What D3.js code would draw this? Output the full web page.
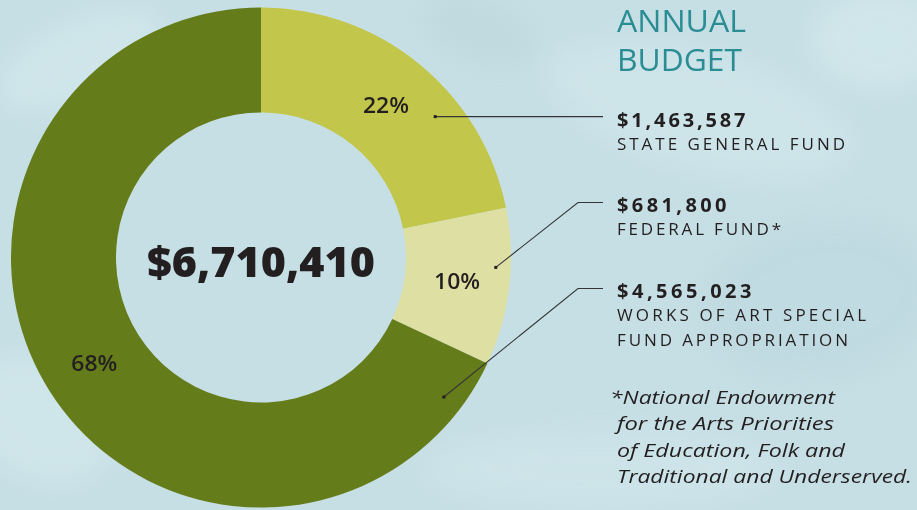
<!DOCTYPE html>
<html>
<head>
<meta charset="utf-8">
<script src="https://cdn.jsdelivr.net/npm/d3@7"></script>
<style>
  html, body { margin: 0; padding: 0; background: #c6dfe5; }
  svg { display: block; }
</style>
</head>
<body>
<svg id="chart" width="917" height="510"></svg>
<script>
// ---- data ----
const categories = ["State General Fund", "Federal Fund*", "Works of Art Special Fund Appropriation"];
const amounts = [1463587, 681800, 4565023];
const percentLabels = ["22%", "10%", "68%"];
const amountLabels = ["$1,463,587", "$681,800", "$4,565,023"];
const categoryLines = [["STATE GENERAL FUND"], ["FEDERAL FUND*"], ["WORKS OF ART SPECIAL", "FUND APPROPRIATION"]];
const totalLabel = "$6,710,410";
const titleLines = ["ANNUAL", "BUDGET"];
const footnoteLines = ["*National Endowment", " for the Arts Priorities", " of Education, Folk and", " Traditional and Underserved."];

// ---- style / layout ----
const W = 917, H = 510;
const cx = 261, cy = 257.5, rOuter = 250, rInner = 145;
const colors = ["#c2c74b", "#dee0a3", "#657c1b"];
const leaderT = [0.65, 0.38, 0.05];      // position of dot within slice angle
const leaderR = [224, 235, 230];         // radius of dot
const legendY = [127, 212, 298];         // baseline of amount text
const legendX = 617;
const elbowX = 578;

const svg = d3.select("#chart");

// background texture
const defs = svg.append("defs");
const blur = defs.append("filter").attr("id", "blur").attr("x", "-50%").attr("y", "-50%").attr("width", "200%").attr("height", "200%");
blur.append("feGaussianBlur").attr("stdDeviation", 14);
svg.append("rect").attr("width", W).attr("height", H).attr("fill", "#c6dfe5");
const tex = svg.append("g").attr("filter", "url(#blur)").attr("opacity", 0.55);
const blobs = [
  [80, 60, 90, 40, "#d6ebef", -25], [700, 110, 160, 60, "#d3e8ed", 15],
  [820, 300, 120, 80, "#bcd7de", -10], [40, 420, 80, 60, "#d5eaee", 30],
  [600, 470, 180, 40, "#d2e7ec", 0], [880, 40, 70, 50, "#d8ecf0", 0],
  [480, 30, 60, 30, "#bcd6dc", 20]
];
tex.selectAll("ellipse").data(blobs).join("ellipse")
  .attr("cx", d => d[0]).attr("cy", d => d[1]).attr("rx", d => d[2]).attr("ry", d => d[3])
  .attr("fill", d => d[4]).attr("transform", d => `rotate(${d[5]},${d[0]},${d[1]})`);

// donut
const pie = d3.pie().sort(null).value(d => d)(amounts);
const arc = d3.arc().innerRadius(rInner).outerRadius(rOuter);
const g = svg.append("g").attr("transform", `translate(${cx},${cy})`);
g.selectAll("path.slice").data(pie).join("path")
  .attr("class", "slice").attr("d", arc).attr("fill", (d, i) => colors[i]);

// percent labels
g.selectAll("text.pct").data(pie).join("text")
  .attr("class", "pct")
  .attr("x", d => arc.centroid(d)[0])
  .attr("y", d => arc.centroid(d)[1] + 8)
  .attr("text-anchor", "middle")
  .attr("font-family", "'Open Sans', sans-serif")
  .attr("font-weight", 600)
  .attr("font-size", 21.5)
  .attr("textLength", 46).attr("lengthAdjust", "spacingAndGlyphs")
  .attr("fill", "#231f20")
  .text((d, i) => percentLabels[i]);

// center total
svg.append("text")
  .attr("x", cx).attr("y", 277)
  .attr("text-anchor", "middle")
  .attr("font-family", "'Open Sans', sans-serif")
  .attr("font-weight", 800)
  .attr("font-size", 42)
  .attr("textLength", 228).attr("lengthAdjust", "spacingAndGlyphs")
  .attr("fill", "#231f20")
  .text(totalLabel);

// leader lines
pie.forEach((d, i) => {
  const a = d.startAngle + leaderT[i] * (d.endAngle - d.startAngle);
  const px = cx + leaderR[i] * Math.sin(a);
  const py = cy - leaderR[i] * Math.cos(a);
  const ly = legendY[i] - 9.5;
  const pts = i === 0 ? [[px, py], [legendX - 14, py]] : [[px, py], [elbowX, ly], [legendX - 14, ly]];
  svg.append("path")
    .attr("d", d3.line()(pts))
    .attr("fill", "none").attr("stroke", "#333536").attr("stroke-width", 1.1);
  svg.append("rect").attr("x", px - 1.5).attr("y", py - 1.5).attr("width", 3).attr("height", 3).attr("fill", "#231f20");
});

// title
const titleWidths = [129, 125];
svg.selectAll("text.title").data(titleLines).join("text")
  .attr("class", "title")
  .attr("x", legendX).attr("y", (d, i) => 32 + i * 39)
  .attr("font-family", "'Open Sans', sans-serif")
  .attr("font-weight", 400)
  .attr("font-size", 31)
  .attr("textLength", (d, i) => titleWidths[i]).attr("lengthAdjust", "spacingAndGlyphs")
  .attr("fill", "#2b8d94")
  .text(d => d);

// legend entries
const amountWidths = [130, 111, 136];
const catWidths = [[230], [166], [251, 233]];
amountLabels.forEach((lab, i) => {
  svg.append("text")
    .attr("x", legendX).attr("y", legendY[i])
    .attr("font-family", "'Open Sans', sans-serif")
    .attr("font-weight", 700)
    .attr("font-size", 20)
    .attr("letter-spacing", 1.5)
    .attr("textLength", amountWidths[i]).attr("lengthAdjust", "spacing")
    .attr("fill", "#231f20")
    .text(lab);
  categoryLines[i].forEach((line, j) => {
    svg.append("text")
      .attr("x", legendX).attr("y", legendY[i] + 23 + j * 25)
      .attr("font-family", "'Open Sans', sans-serif")
      .attr("font-weight", 500)
      .attr("font-size", 17)
      .attr("letter-spacing", 2)
      .attr("textLength", catWidths[i][j]).attr("lengthAdjust", "spacing")
      .attr("fill", "#231f20")
      .text(line);
  });
});

// footnote
const footX = [610, 617, 617, 617];
const footW = [225, 217, 228, 295];
svg.selectAll("text.foot").data(footnoteLines).join("text")
  .attr("class", "foot")
  .attr("x", (d, i) => footX[i]).attr("y", (d, i) => 404 + i * 26.3)
  .attr("font-family", "'Open Sans', sans-serif")
  .attr("font-style", "italic")
  .attr("font-weight", 400)
  .attr("font-size", 18.5)
  .attr("textLength", (d, i) => footW[i]).attr("lengthAdjust", "spacingAndGlyphs")
  .attr("fill", "#231f20")
  .text(d => d.trim());
</script>
</body>
</html>
